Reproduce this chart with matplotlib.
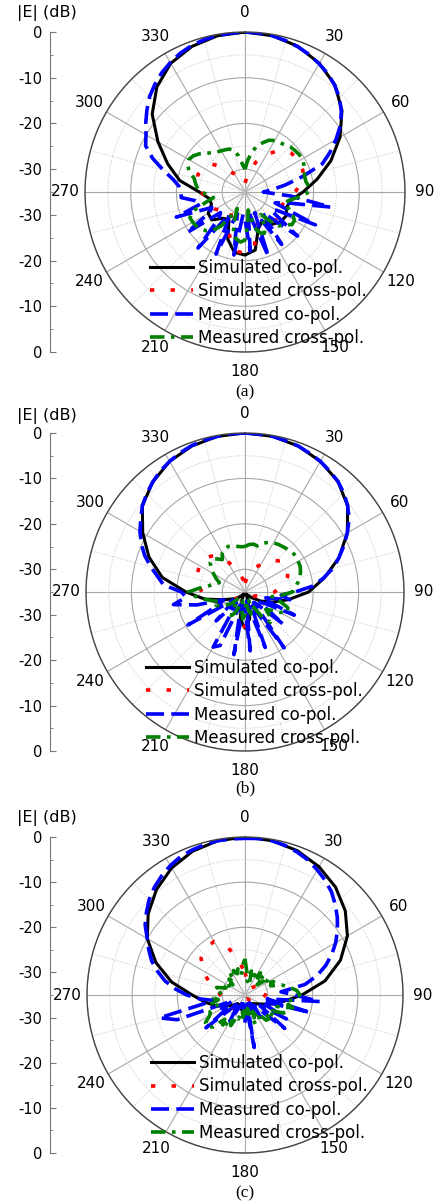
import numpy as np
import matplotlib
matplotlib.use('Agg')
import matplotlib.pyplot as plt

plt.rcParams['font.family'] = ['DejaVu Sans']

# angle grids (deg): simulated cuts every 10 deg, measured every 5 deg
ang_sim = np.arange(0, 360, 10)
ang_meas = np.arange(0, 360, 5)

theta_ticks = list(range(0, 360, 30))
axis_ticklabels = ['0', '-10', '-20', '-30', '-30', '-20', '-10', '0']
legend_labels = ['Simulated co-pol.', 'Simulated cross-pol.',
                 'Measured co-pol.', 'Measured cross-pol.']
captions = ['(a)', '(b)', '(c)']

# ---------------- (a) ----------------
a_sim_co = [0, -0.3, -1.1, -2.5, -4.4, -7.3, -11, -15, -19, -22.3,
            -24.8, -25.3, -24.6, -24.8, -25.8, -27.5, -26.5, -22.1, -21.2, -21.6,
            -24, -28, -27.5, -25.5, -25.7, -27.2, -27, -25, -20.5, -17,
            -13, -8.5, -5, -2.5, -1.1, -0.3]
a_sim_x = [-33, -31, -28, -25.5, -23, -21.8, -21.2, -21.5, -22.5, -24,
           -25.5, -26.5, -27.5, -26, -25.5, -27, -27.5, -23, -21.5, -22,
           -25, -29, -30, -28.5, -27.5, -27, -26.5, -25.5, -24.5, -24,
           -24.5, -25.5, -28, -30.5, -32, -33]
a_meas_co = [0, -0.1, -0.3, -0.7, -1.2, -1.8, -2.6, -3.4, -4.5, -5.8,
             -7.5, -9.5, -12, -14.5, -17, -22, -26, -29, -31, -25,
             -16, -26, -28, -18, -27, -28, -20, -27, -29, -21,
             -28, -30, -20, -28, -31, -22, -29, -30, -21, -28,
             -30, -20, -27, -29, -19, -27, -28, -19.5, -26, -27,
             -19, -25, -24, -21, -21, -20.5, -19, -16.5, -13.5, -11,
             -10, -8.5, -7, -5.5, -4.3, -3.2, -2.3, -1.5, -0.9, -0.5,
             -0.2, -0.1]
a_meas_x = [-30, -28, -26, -24.5, -23.5, -22.5, -22, -21.8, -21.5, -21,
            -20.8, -20.6, -20.5, -20.8, -21.2, -21.5, -21.5, -21, -21, -23,
            -25, -26, -25, -23.5, -22.5, -22.5, -24, -24.5, -27, -29,
            -26.5, -25, -25.5, -27, -31, -28, -24.5, -24, -24.5, -25,
            -28, -31, -29, -26, -24, -23, -22.5, -22, -21.8, -21.7,
            -23, -26, -28, -27, -25.5, -24.5, -24, -23.5, -22, -21.2,
            -20.8, -21.2, -22, -23, -23.8, -24.3, -24.6, -24.8, -25, -25.5,
            -27, -29]

# ---------------- (b) ----------------
b_sim_co = [0, -0.2, -0.8, -1.8, -3.2, -5.5, -9, -13, -17.3, -21,
            -25.3, -28.5, -31, -33, -34, -34.5, -33, -29, -27, -29,
            -33, -34.5, -34, -33, -32, -30, -26, -22, -16.5, -12.5,
            -9, -5.5, -3.4, -1.8, -0.8, -0.2]
b_sim_x = [-33, -31, -29.5, -28, -25.8, -24.5, -24.3, -25, -26.5, -28.5,
           -31, -32.5, -33, -33.5, -34, -34, -32, -29, -27.3, -28,
           -31, -33.5, -34, -33, -31, -28.5, -26.5, -25.5, -24.5, -23.8,
           -23.4, -23.3, -24.5, -27, -30, -32]
b_meas_co = [0, -0.1, -0.2, -0.5, -0.8, -1.3, -1.8, -2.5, -3.2, -4.2,
             -5.5, -7, -9, -11, -13, -15, -17.5, -20, -24, -27,
             -25, -30, -31, -23, -30, -31, -24, -31, -32, -20,
             -30, -32, -22, -31, -33, -22, -31, -32, -21, -31,
             -32, -22, -21, -31, -32, -26, -31, -32, -20.5, -29,
             -30, -24, -19, -22, -21, -17, -15.5, -13.5, -11.5, -9.8,
             -8.3, -7, -5.5, -4.4, -3.4, -2.5, -1.8, -1.2, -0.7, -0.4,
             -0.2, 0]
b_meas_x = [-25, -24.5, -24.3, -24.5, -23.5, -23, -22.5, -22.2, -22, -21.7,
            -21.4, -21.3, -21.5, -21.6, -22, -22.5, -23.2, -24, -24.5, -27,
            -29, -27, -25, -24.6, -26, -28, -29, -27, -26.3, -28,
            -31, -33, -32, -30, -31, -33, -30, -29, -31, -33,
            -32, -30, -29, -30.5, -32, -33, -31, -30, -29, -28,
            -29, -27.5, -26, -24, -22.5, -25, -27, -28, -29, -28,
            -27, -26, -25, -24.8, -25.5, -26.3, -25, -24.5, -24.3, -24.5,
            -24.8, -25]

# ---------------- (c) ----------------
c_sim_co = [0, -0.3, -1, -2.2, -3.8, -6, -8.8, -12.5, -17, -22.4,
            -26.5, -29, -31, -32, -32.5, -32.5, -32, -31.5, -31.5, -31.5,
            -32, -32.5, -32.5, -31.5, -30, -28, -26, -23.3, -18.5, -14,
            -10, -7, -4.5, -2.5, -1.1, -0.3]
c_sim_x = [-30, -32, -33, -33.5, -33, -32, -31, -30.3, -30, -30.5,
           -31, -31, -32, -33, -33.5, -34, -34, -34, -33.5, -33,
           -32.5, -31.5, -31, -31.5, -31, -30.5, -30, -29.5, -28.9, -26.5,
           -24.3, -22.3, -21.5, -21.3, -23.5, -27.5]
c_meas_co = [-0.3, -0.2, -0.3, -0.7, -1.3, -2, -3, -4, -5.2, -6.7,
             -8.3, -10, -11.8, -13.8, -16, -18.5, -21.5, -27, -24, -18.4,
             -30, -19.9, -31, -30, -24.4, -31, -23.5, -30, -32, -29,
             -33, -31, -30, -33, -23.2, -33, -28.8, -32, -33, -31,
             -33, -32, -28.3, -32, -33, -31, -23.7, -31, -29, -32,
             -19, -15.4, -28, -25, -22.1, -19.5, -17, -15, -13, -11.5,
             -10, -8, -6.5, -5, -3.8, -2.8, -1.9, -1.2, -0.8, -0.5,
             -0.3, -0.3]
c_meas_x = [-27, -30, -32, -29.5, -32, -30, -31, -29, -31, -29,
            -31.5, -28.5, -30, -28, -29, -26.5, -25, -23.5, -22.8, -24,
            -26, -24, -27.5, -25.5, -28, -27, -29, -27.5, -27.7, -30,
            -28.5, -31, -28, -30.5, -32, -30, -32.5, -30, -31.5, -29.5,
            -30, -27.5, -29, -26, -28, -25, -24, -24.3, -26, -26.5,
            -28.5, -27, -29, -28, -28.5, -29.5, -30, -28.5, -30.5, -29.5,
            -31, -30, -31.5, -30, -31, -29.5, -30.5, -29, -30, -29,
            -30.5, -28.5]

panels = [
    (a_sim_co, a_sim_x, a_meas_co, a_meas_x),
    (b_sim_co, b_sim_x, b_meas_co, b_meas_x),
    (c_sim_co, c_sim_x, c_meas_co, c_meas_x),
]

W, H = 434, 1204
# pixel geometry of each panel: centre y, radius, label/caption y, legend corner
geom = [
    dict(cy=192, r=160, lab=13, cap=392, leg=(150, 259)),
    dict(cy=592, r=159, lab=416, cap=788, leg=(146, 659)),
    dict(cy=995, r=158, lab=818, cap=1193, leg=(151, 1054)),
]
CX = 245


def closed(ang, vals):
    t = np.deg2rad(np.append(ang, 360))
    return t, np.append(vals, vals[0])


fig = plt.figure(figsize=(W / 100, H / 100), dpi=100)

for (sim_co, sim_x, meas_co, meas_x), g, cap in zip(panels, geom, captions):
    r, cy = g['r'], g['cy']
    rect = [(CX - r) / W, (H - cy - r) / H, 2 * r / W, 2 * r / H]
    ax = fig.add_axes(rect, projection='polar')
    ax.set_theta_zero_location('N')
    ax.set_theta_direction(-1)
    ax.set_ylim(-35, 0)

    ax.set_yticks([-30, -20, -10, 0])
    ax.set_yticks([-25, -15, -5], minor=True)
    ax.set_yticklabels([])
    ax.set_xticks(np.deg2rad(theta_ticks))
    ax.set_xticklabels([str(d) for d in theta_ticks])
    ax.set_xticks(np.deg2rad(np.arange(15, 360, 30)), minor=True)
    ax.grid(True, which='major', color='#a8a8a8', lw=0.8)
    ax.grid(True, which='minor', color='#c4c4c4', lw=0.7, ls=':')
    ax.spines['polar'].set_color('#444444')
    ax.spines['polar'].set_linewidth(1.0)
    ax.tick_params(axis='x', pad=3.5, labelsize=11)

    h1, = ax.plot(*closed(ang_sim, sim_co), color='black', lw=2.2)
    h2, = ax.plot(*closed(ang_sim, sim_x), color='red', lw=2.6,
                  ls=(0, (1.2, 4.5)))
    h3, = ax.plot(*closed(ang_meas, meas_co), color='#0000ff', lw=2.6,
                  ls=(0, (5, 2)))
    h4, = ax.plot(*closed(ang_meas, meas_x), color='#008000', lw=2.6,
                  ls=(0, (4, 1.8, 1, 1.8)))

    lx, ly = g['leg']
    ax.legend([h1, h2, h3, h4], legend_labels, loc='upper left',
              bbox_to_anchor=(lx / W, 1 - ly / H), bbox_transform=fig.transFigure,
              frameon=False, borderpad=0, borderaxespad=0, fontsize=12,
              handlelength=2.6, handletextpad=0.3, labelspacing=0.32)

    # mirrored linear dB scale on the left
    lax = fig.add_axes([50 / W, rect[1], 0.02, rect[3]])
    lax.patch.set_visible(False)
    for s in ['top', 'right', 'bottom']:
        lax.spines[s].set_visible(False)
    lax.spines['left'].set_color('#777777')
    lax.set_ylim(70, 0)
    lax.set_yticks(np.arange(0, 71, 10))
    lax.set_yticklabels(axis_ticklabels)
    lax.set_yticks(np.arange(5, 70, 10), minor=True)
    lax.set_xticks([])
    lax.tick_params(axis='y', which='both', direction='in', color='#777777',
                    labelsize=10.5, pad=5.5)
    lax.tick_params(axis='y', which='major', length=4)
    lax.tick_params(axis='y', which='minor', length=2.5)

    fig.text(17 / W, 1 - g['lab'] / H, '|E| (dB)', fontsize=11.5,
             ha='left', va='center')
    fig.text(CX / W, 1 - g['cap'] / H, cap, fontsize=12.5, ha='center',
             va='center', family=['Liberation Serif', 'DejaVu Serif'])

fig.savefig('out.png', dpi=100)
